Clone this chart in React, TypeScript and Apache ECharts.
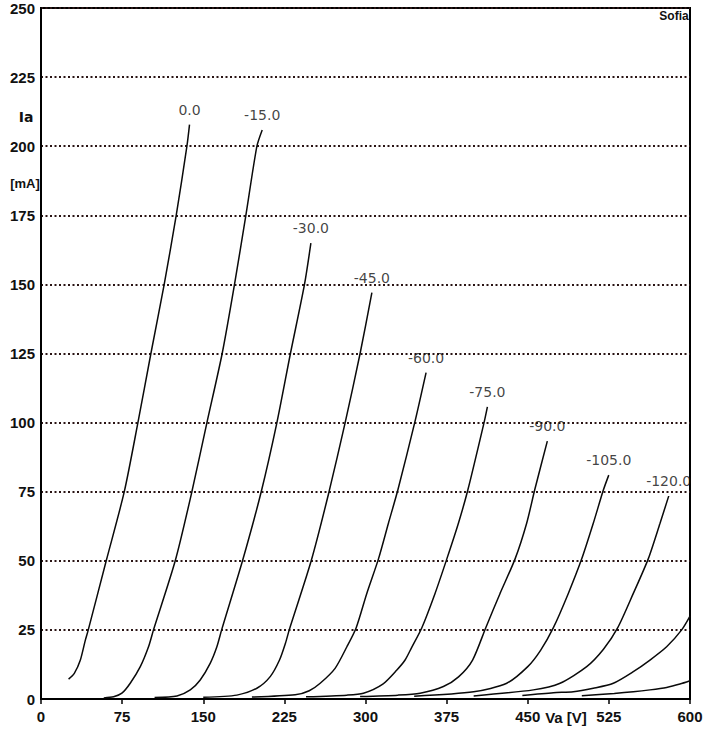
import React, { useEffect, useRef } from "react";
import * as echarts from "echarts";

// Plate voltage Va [V] vs plate current Ia [mA] for each grid bias
const gridBiasLabels = ["0.0", "-15.0", "-30.0", "-45.0", "-60.0", "-75.0", "-90.0", "-105.0", "-120.0", "", ""];

const curve0 = [[25.5, 7.2], [30.8, 9.3], [36.4, 14.1], [41.0, 21.3], [43.7, 25], [60.3, 50], [77.0, 75], [89.6, 100], [101.6, 125], [113.9, 150], [125.0, 175], [134.9, 200], [137.3, 207.8]];
const curveM15 = [[58, 0.4], [67.1, 0.8], [74.8, 2.1], [82.5, 5.7], [91.8, 11.7], [99.4, 18.9], [104, 25], [124.1, 50], [139.5, 75], [153.4, 100], [167.5, 125], [178.9, 150], [189.4, 175], [199.6, 200], [204.5, 205.9]];
const curveM30 = [[105, 0.5], [125.7, 1.1], [138, 3.3], [147.2, 6.9], [156.4, 12.9], [162.6, 18.9], [167, 25], [186.3, 50], [203.6, 75], [218.1, 100], [230.6, 125], [243.6, 150], [249.5, 164.9]];
const curveM45 = [[150, 0.6], [181.1, 1.4], [199.6, 3.9], [211.9, 8.1], [220.5, 14.1], [226, 20.2], [229.5, 25], [249.8, 50], [266.3, 75], [281.2, 100], [295.0, 125], [305.9, 147.0]];
const curveM60 = [[195, 0.7], [235, 1.5], [248, 3], [258.1, 5.7], [271.9, 11.1], [282.8, 18.9], [291.4, 25.8], [301.2, 38.2], [312, 50.7], [321.2, 63.6], [329.9, 75.6], [345.5, 100], [356.0, 118.1]];
const curveM75 = [[245, 0.8], [282.8, 1.4], [298.1, 2.1], [316, 5.4], [329, 10.5], [336.6, 14.1], [342.5, 18.5], [352.1, 25.8], [364.3, 38.2], [375.2, 50.7], [385.9, 63.6], [394.6, 75.6], [409.6, 100], [412.7, 105.7]];
const curveM90 = [[295, 0.9], [330, 1.4], [350.5, 2.1], [372, 4.5], [386, 8], [399, 14.1], [411.2, 25.8], [424.4, 38.2], [438.3, 50.7], [449, 63.6], [456.4, 75.6], [468.1, 93.3]];
const curveM105 = [[345, 1.0], [400, 2.6], [430.6, 5.7], [450, 11.7], [462, 17.7], [473.7, 25.8], [487.5, 38.2], [499.9, 50.7], [510.6, 63.6], [519.9, 75.6], [524.9, 81]];
const curveM120 = [[400, 1.1], [455.2, 3.3], [479.9, 5.7], [504.5, 11.7], [520, 18], [533.2, 25.8], [547.6, 38.2], [561.4, 50.7], [572.3, 63.6], [580.3, 73.4]];
const curveM135 = [[445, 1.3], [473.7, 2.3], [492.1, 2.6], [510.6, 3.9], [529.1, 5.7], [547.6, 9.9], [563, 14.1], [578.4, 18.9], [592.3, 25], [600, 30]];
const curveM150 = [[500, 1.2], [530, 2], [547.6, 2.6], [563, 3.3], [578.4, 4.2], [590.7, 5.4], [600, 6.6]];

const curves = [curve0, curveM15, curveM30, curveM45, curveM60, curveM75, curveM90, curveM105, curveM120, curveM135, curveM150];

const xTicks = { min: 0, max: 600, interval: 75 };
const yTicks = { min: 0, max: 250, interval: 25 };

const FONT = "DejaVu Sans";
const AXFONT = "Liberation Sans";

export default function App() {
  const ref = useRef<HTMLDivElement>(null);
  useEffect(() => {
    if (!ref.current) return;
    const chart = echarts.init(ref.current, undefined, { renderer: "svg" });

    const lineSeries = curves.map((c, i) => ({
      type: "line",
      name: gridBiasLabels[i] || "g" + i,
      data: c,
      showSymbol: false,
      symbol: "none",
      smooth: 0.25,
      lineStyle: { color: "#0a0a0a", width: 1.5 },
      silent: true,
      z: 3,
    }));

    const labelData = curves
      .map((c, i) => ({ value: c[c.length - 1], name: gridBiasLabels[i] }))
      .filter((d) => d.name);

    const option: any = {
      animation: false,
      backgroundColor: "#fff",
      grid: {
        left: 41,
        right: 21,
        top: 8,
        bottom: 30,
        show: true,
        borderColor: "#000",
        borderWidth: 2,
        backgroundColor: "#fff",
      },
      xAxis: {
        type: "value",
        ...xTicks,
        axisLine: { show: true, onZero: false, lineStyle: { color: "#000", width: 2 } },
        axisTick: { show: true, length: 5, lineStyle: { color: "#000", width: 1.5 } },
        axisLabel: { margin: 10, color: "#111", fontFamily: AXFONT, fontWeight: "bold", fontSize: 15 },
        splitLine: { show: false },
      },
      yAxis: {
        type: "value",
        ...yTicks,
        axisLine: { show: true, onZero: false, lineStyle: { color: "#000", width: 2 } },
        axisTick: { show: false },
        axisLabel: { margin: 6, color: "#111", fontFamily: AXFONT, fontWeight: "bold", fontSize: 15 },
        splitLine: { show: true, lineStyle: { color: "#2a1414", width: 2, type: [2, 2.5] } },
      },
      series: [
        ...lineSeries,
        {
          type: "scatter",
          data: labelData,
          symbolSize: 0,
          silent: true,
          z: 4,
          label: {
            show: true,
            position: "top",
            distance: 8,
            formatter: (p: any) => p.name,
            color: "#111",
            fontFamily: FONT,
            fontSize: 14,
          },
        },
      ],
      graphic: [
        { type: "text", x: 26, y: 117, style: { text: "Ia", fontFamily: FONT, fontWeight: "bold", fontSize: 14, fill: "#111", textAlign: "center", textVerticalAlign: "middle" } },
        { type: "text", x: 25, y: 183, style: { text: "[mA]", fontFamily: AXFONT, fontWeight: "bold", fontSize: 13, fill: "#111", textAlign: "center", textVerticalAlign: "middle" } },
        { type: "text", x: 674, y: 16, style: { text: "Sofia", fontFamily: AXFONT, fontWeight: "bold", fontSize: 12, fill: "#111", textAlign: "center", textVerticalAlign: "middle" } },
        { type: "text", x: 566, y: 717, style: { text: "Va [V]", fontFamily: AXFONT, fontWeight: "bold", fontSize: 15, fill: "#111", textAlign: "center", textVerticalAlign: "middle" } },
      ],
    };
    chart.setOption(option);
    return () => chart.dispose();
  }, []);
  return <div ref={ref} style={{ position: "fixed", left: 0, top: 0, width: 711, height: 729 }} />;
}
